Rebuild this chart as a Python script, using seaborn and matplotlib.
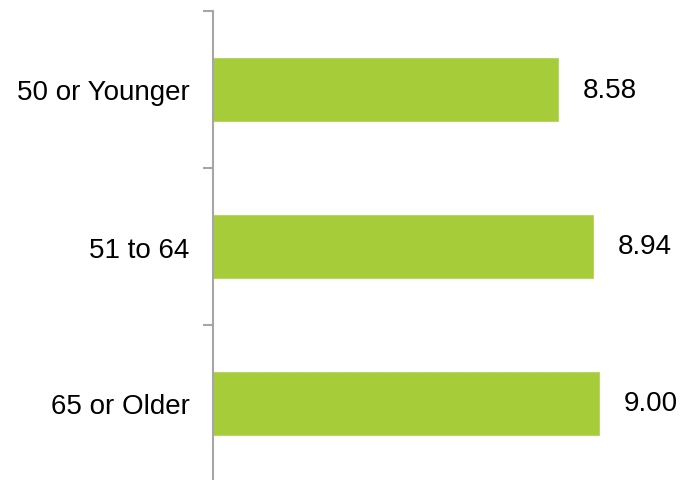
import numpy as np
import pandas as pd
import matplotlib
matplotlib.use("Agg")
import matplotlib.pyplot as plt
import seaborn as sns

grupos = ["50 or Younger", "51 to 64", "65 or Older"]
valores = [8.58, 8.94, 9.00]

datos = pd.DataFrame({"grupo": grupos, "valor": valores})

sns.set_style("white")
plt.rcParams["font.family"] = ["Liberation Sans", "DejaVu Sans"]

fig = plt.figure(figsize=(6.88, 4.81), dpi=100)
ax = fig.add_axes([213 / 688, -2 / 481, (696 - 213) / 688, (483 - 12) / 481])

sns.barplot(data=datos, x="valor", y="grupo", orient="h", color="#A6CD39",
            saturation=1, width=0.41, ax=ax)

ax.set_xlim(4.98, 10)
ax.set_ylim(2.5, -0.5)

# etiquetas de valor
for cont in ax.containers:
    ax.bar_label(cont, fmt="%.2f", padding=17, fontsize=20, color="black")

# ticks en los bordes de cada categoria, etiquetas centradas
ax.set_yticks([-0.5, 0.5, 1.5, 2.5])
ax.set_yticklabels([])
ax.set_yticks(range(len(grupos)), minor=True)
ax.set_yticklabels(grupos, minor=True, fontsize=20, color="black")
ax.tick_params(axis="y", which="major", direction="out", length=7, width=1.5,
               color="#A6A6A6", left=True)
ax.tick_params(axis="y", which="minor", length=0, pad=17)
ax.set_xticks([])
ax.set_xlabel("")
ax.set_ylabel("")

for s in ["top", "right", "bottom"]:
    ax.spines[s].set_visible(False)
ax.spines["left"].set_color("#A6A6A6")
ax.spines["left"].set_linewidth(1.5)

fig.savefig("out.png", dpi=100)
